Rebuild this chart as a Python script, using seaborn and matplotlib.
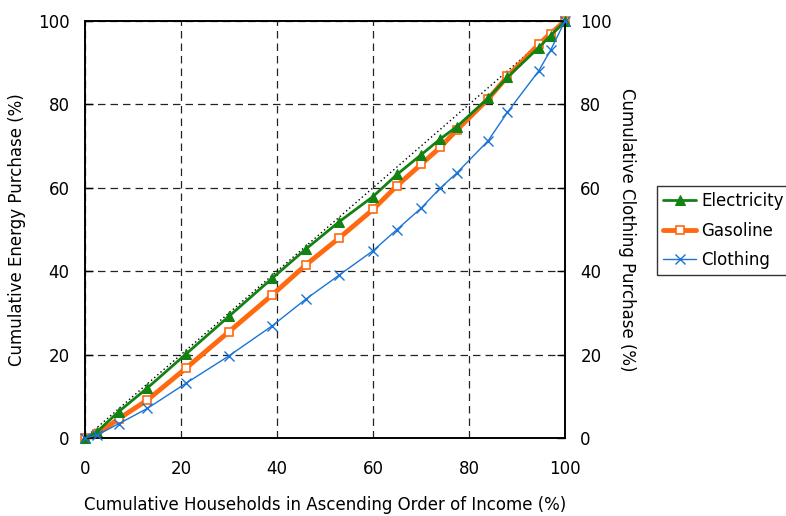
import matplotlib
matplotlib.use("Agg")
import matplotlib.pyplot as plt
import seaborn as sns
import pandas as pd

# ---- data ----
households = [0, 2.5, 7, 13, 21, 30, 39, 46, 53, 60, 65, 70, 74, 77.5, 84, 88, 94.5, 97, 100]
electricity = [0, 1.5, 6.3, 12, 20.1, 29.2, 38.3, 45.3, 51.9, 57.9, 63.2, 67.9, 71.7, 74.7, 81.5, 86.5, 93.6, 96.5, 100]
gasoline = [0, 0.9, 4.6, 9.1, 16.7, 25.5, 34.3, 41.5, 48.0, 54.8, 60.5, 65.6, 69.7, 73.9, 81.3, 86.7, 94.4, 97.0, 100]
clothing = [0, 0.7, 3.4, 7.1, 13.1, 19.7, 26.9, 33.3, 39.1, 44.9, 50.0, 55.1, 59.9, 63.6, 71.3, 78.1, 88.0, 93.0, 100]
equality = [0, 100]
ticks = [0, 20, 40, 60, 80, 100]

sns.set_style("white")
plt.rcParams["font.family"] = ["DejaVu Sans"]
plt.rcParams["font.size"] = 11.5
plt.rcParams["text.color"] = "black"
plt.rcParams["axes.labelcolor"] = "black"

FS = 12

fig = plt.figure(figsize=(7.86, 5.16), dpi=100)
ax = fig.add_axes([85/786, 78/516, 480/786, 417/516])
ax2 = ax.twinx()

df = pd.DataFrame({"x": households, "Electricity": electricity,
                   "Gasoline": gasoline, "Clothing": clothing})
eq = pd.DataFrame({"x": equality, "y": equality})

GREEN = "#128212"
ORANGE = "#ff6a10"
BLUE = "#1a74d6"

sns.lineplot(data=eq, x="x", y="y", ax=ax, color="black", linestyle=(0, (1, 2)),
             linewidth=1.0, legend=False, zorder=2)
sns.lineplot(data=df, x="x", y="Gasoline", ax=ax, color=ORANGE, linewidth=3.5,
             marker="s", markersize=6, markerfacecolor="white",
             markeredgecolor=ORANGE, markeredgewidth=1.2, label="Gasoline",
             zorder=3, clip_on=False)
sns.lineplot(data=df, x="x", y="Electricity", ax=ax, color=GREEN, linewidth=2.0,
             marker="^", markersize=7, markeredgecolor=GREEN, markerfacecolor=GREEN,
             label="Electricity", zorder=4, clip_on=False)
sns.lineplot(data=df, x="x", y="Clothing", ax=ax2, color=BLUE, linewidth=1.0,
             marker="x", markersize=7, markeredgewidth=1.0, markeredgecolor=BLUE,
             label="Clothing", zorder=3, clip_on=False)

for a in (ax, ax2):
    a.set_xlim(0, 100)
    a.set_ylim(0, 100)
    a.set_yticks(ticks)
    for s in a.spines.values():
        s.set_color("black")
        s.set_linewidth(1.2)
ax.set_xticks(ticks)
ax.set_xticklabels([str(t) for t in ticks])
ax.set_yticklabels([str(t) for t in ticks])
ax2.set_yticklabels([str(t) for t in ticks])

ax.grid(True, color="#222222", linestyle=(0, (6, 4)), linewidth=0.9)
ax.tick_params(axis="both", direction="in", length=6, width=1, color="black",
               labelsize=FS, labelcolor="black")
ax.tick_params(axis="x", pad=16)
ax.tick_params(axis="y", pad=11)
ax2.tick_params(axis="y", direction="in", length=6, width=1, color="black",
                labelsize=FS, pad=11, labelcolor="black")

ax.set_xlabel("Cumulative Households in Ascending Order of Income (%)", fontsize=FS,
              labelpad=13, color="black")
ax.set_ylabel("Cumulative Energy Purchase (%)", fontsize=FS, labelpad=9, color="black")
ax2.set_ylabel("Cumulative Clothing Purchase (%)", fontsize=FS, rotation=-90,
               labelpad=17, color="black")

for a in (ax, ax2):
    if a.get_legend() is not None:
        a.get_legend().remove()

h1, l1 = ax.get_legend_handles_labels()
h2, l2 = ax2.get_legend_handles_labels()
hd = dict(zip(l1 + l2, h1 + h2))
order = ["Electricity", "Gasoline", "Clothing"]
leg = fig.legend([hd[k] for k in order], order, loc="upper left",
                 bbox_to_anchor=(657/786, 1 - 186/516), frameon=True, fancybox=False,
                 edgecolor="black", fontsize=FS, handlelength=2.0, handletextpad=0.3,
                 borderpad=0.35, labelspacing=0.7, borderaxespad=0)
leg.get_frame().set_linewidth(1.0)

fig.savefig("out.png", dpi=100)
